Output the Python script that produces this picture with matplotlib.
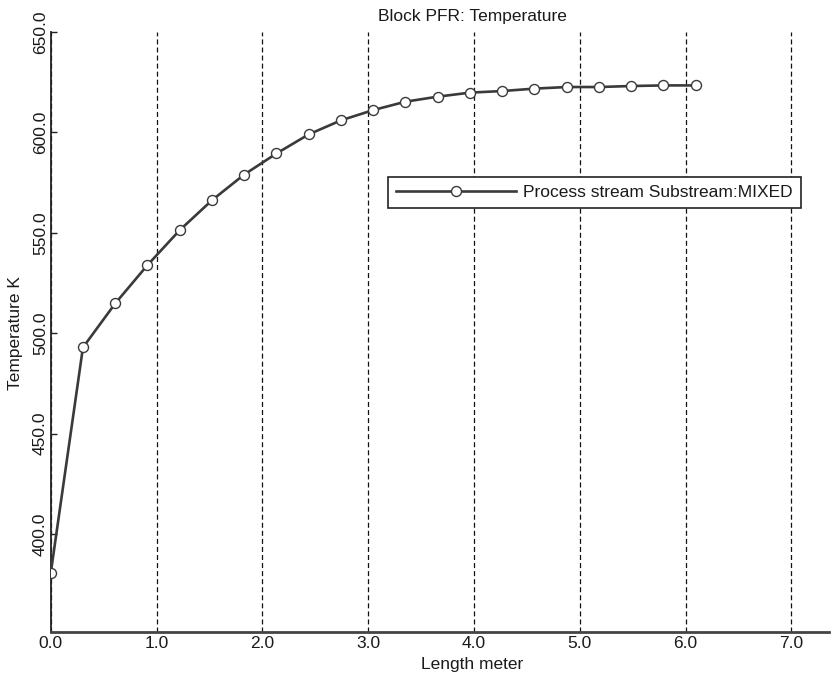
import matplotlib
matplotlib.use("Agg")
import matplotlib.pyplot as plt

length_m = [0.0, 0.3048, 0.6096, 0.9144, 1.2192, 1.524, 1.8288, 2.1336, 2.4384, 2.7432,
            3.048, 3.3528, 3.6576, 3.9624, 4.2672, 4.572, 4.8768, 5.1816, 5.4864, 5.7912, 6.096]
temperature_k = [380.4, 492.9, 514.8, 533.9, 551.3, 566.2, 579.0, 589.5, 599.0, 606.0,
                 611.1, 615.3, 617.8, 619.8, 620.6, 621.8, 622.6, 622.6, 623.1, 623.4, 623.4]
x_ticks = [0.0, 1.0, 2.0, 3.0, 4.0, 5.0, 6.0, 7.0]
y_ticks = [400.0, 450.0, 500.0, 550.0, 600.0, 650.0]
series_label = "Process stream Substream:MIXED"
title = "Block PFR: Temperature"
x_label = "Length meter"
y_label = "Temperature K"

plt.rcParams['font.family'] = ['Liberation Sans', 'DejaVu Sans']
plt.rcParams['lines.scale_dashes'] = False
FS = 12.5
TXT = '#1a1a1a'

W, H = 832, 678
fig = plt.figure(figsize=(W / 100, H / 100), dpi=100)
x0, x1, ytop, ybot = 50.7, 829.0, 32.0, 632.0
ax = fig.add_axes([x0 / W, 1 - ybot / H, (x1 - x0) / W, (ybot - ytop) / H])

ax.plot(length_m, temperature_k, color='#3a3a3a', lw=1.9, marker='o', ms=7.2,
        mfc='white', mec='#3a3a3a', mew=1.0, label=series_label, zorder=3)

ax.set_xlim(0, (x1 - x0) / 105.8)
ax.set_ylim(351.2, 650)
ax.set_xticks(x_ticks)
ax.set_xticklabels([f"{v:.1f}" for v in x_ticks], fontsize=FS, color=TXT)
ax.set_yticks(y_ticks)
ax.set_yticklabels([f"{v:.1f}" for v in y_ticks], fontsize=FS, color=TXT,
                   rotation=90, va='center')
ax.tick_params(axis='y', direction='in', length=4.5, width=1, pad=2, colors='#222222')
ax.tick_params(axis='x', direction='in', length=0, pad=3, colors='#222222')
for lab in ax.get_xticklabels() + ax.get_yticklabels():
    lab.set_color(TXT)

ax.grid(axis='x', color='#111111', lw=0.9, dashes=(3.6, 2.2))
ax.grid(axis='y', visible=False)
for s in ['top', 'right']:
    ax.spines[s].set_visible(False)
ax.spines['left'].set_color('#222222')
ax.spines['bottom'].set_color('#444444')
ax.spines['left'].set_linewidth(1.3)
ax.spines['bottom'].set_linewidth(2.0)

fig.text(472 / W, 1 - 16 / H, title, ha='center', va='center', fontsize=FS, color=TXT)
fig.text(472 / W, 1 - 665 / H, x_label, ha='center', va='center', fontsize=FS, color=TXT)
fig.text(16 / W, 1 - 333 / H, y_label, ha='center', va='center', fontsize=FS,
         color=TXT, rotation=90)

leg = ax.legend(loc='upper left', bbox_to_anchor=(388 / W, 1 - 177 / H),
                bbox_transform=fig.transFigure, borderaxespad=0, fontsize=FS,
                fancybox=False, framealpha=1, edgecolor='#222222',
                handlelength=6.95, handletextpad=0.4, borderpad=0.45)
leg.get_frame().set_linewidth(1.2)
for t in leg.get_texts():
    t.set_color(TXT)

fig.savefig('out.png', dpi=100)
